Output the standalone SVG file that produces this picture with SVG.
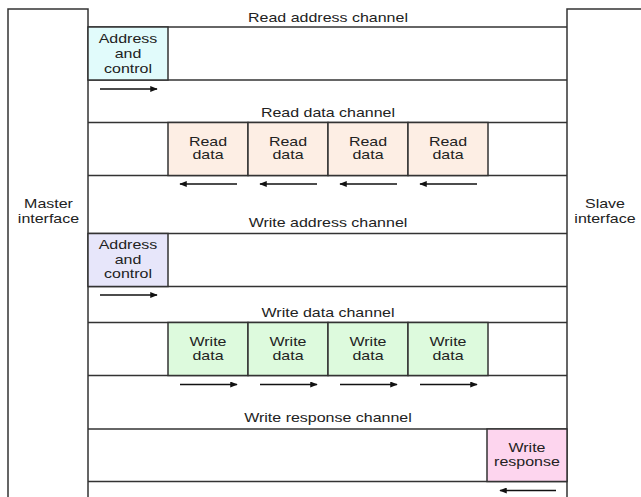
<svg xmlns="http://www.w3.org/2000/svg" width="641" height="497" viewBox="0 0 641 497">
<style>
.ln{stroke:#333;stroke-width:1.5;fill:none}
.cell{stroke:#333;stroke-width:1.5}
.ra{fill:#E1FBFB}.rd{fill:#FDEEE4}.wa{fill:#E7E6FA}.wd{fill:#DDFADD}.wr{fill:#FDD5EE}
text{font-family:"Liberation Sans",Arial,sans-serif;font-size:16px;fill:#222;text-anchor:middle}
.arr{stroke:#111;stroke-width:1.3;fill:none;marker-end:url(#ah)}
</style>
<defs>
<marker id="ah" viewBox="0 0 10 8" refX="9" refY="4" markerWidth="8" markerHeight="6" markerUnits="userSpaceOnUse" orient="auto">
<path d="M0,0 L10,4 L0,8 z" fill="#111"/>
</marker>
</defs>
<rect width="641" height="497" fill="#fff"/>
<g id="master"><rect class="ln" x="8" y="9" width="80" height="500"/></g>
<g id="slave"><rect class="ln" x="567" y="9" width="100" height="500"/></g>
<g id="channels">
<line class="ln" x1="88" y1="27" x2="567" y2="27"/>
<line class="ln" x1="88" y1="80" x2="567" y2="80"/>
<line class="ln" x1="88" y1="122.5" x2="567" y2="122.5"/>
<line class="ln" x1="88" y1="175.5" x2="567" y2="175.5"/>
<line class="ln" x1="88" y1="233.5" x2="567" y2="233.5"/>
<line class="ln" x1="88" y1="286.5" x2="567" y2="286.5"/>
<line class="ln" x1="88" y1="322.5" x2="567" y2="322.5"/>
<line class="ln" x1="88" y1="375.5" x2="567" y2="375.5"/>
<line class="ln" x1="88" y1="429" x2="567" y2="429"/>
<line class="ln" x1="88" y1="481.5" x2="567" y2="481.5"/>
</g>
<g id="read-address"><rect class="cell ra" x="88" y="27" width="80" height="53"/></g>
<g id="read-data-1"><rect class="cell rd" x="168" y="122.5" width="80" height="53"/></g>
<g id="read-data-2"><rect class="cell rd" x="248" y="122.5" width="80" height="53"/></g>
<g id="read-data-3"><rect class="cell rd" x="328" y="122.5" width="80" height="53"/></g>
<g id="read-data-4"><rect class="cell rd" x="408" y="122.5" width="80" height="53"/></g>
<g id="write-address"><rect class="cell wa" x="88" y="233.5" width="80" height="53"/></g>
<g id="write-data-1"><rect class="cell wd" x="168" y="322.5" width="80" height="53"/></g>
<g id="write-data-2"><rect class="cell wd" x="248" y="322.5" width="80" height="53"/></g>
<g id="write-data-3"><rect class="cell wd" x="328" y="322.5" width="80" height="53"/></g>
<g id="write-data-4"><rect class="cell wd" x="408" y="322.5" width="80" height="53"/></g>
<g id="write-response"><rect class="cell wr" x="487" y="429" width="80" height="52.5"/></g>
<g id="connectors">
<line class="arr" x1="100" y1="89" x2="157" y2="89"/>
<line class="arr" x1="237" y1="184" x2="180" y2="184"/>
<line class="arr" x1="317" y1="184" x2="260" y2="184"/>
<line class="arr" x1="397" y1="184" x2="340" y2="184"/>
<line class="arr" x1="477" y1="184" x2="420" y2="184"/>
<line class="arr" x1="100" y1="295" x2="157" y2="295"/>
<line class="arr" x1="180" y1="384.5" x2="237" y2="384.5"/>
<line class="arr" x1="260" y1="384.5" x2="317" y2="384.5"/>
<line class="arr" x1="340" y1="384.5" x2="397" y2="384.5"/>
<line class="arr" x1="420" y1="384.5" x2="477" y2="384.5"/>
<line class="arr" x1="556" y1="490.5" x2="500" y2="490.5"/>
</g>
<g id="labels" transform="scale(1,0.85)">
<text x="48.5" y="244.7">Master</text>
<text x="48.5" y="261.8">interface</text>
<text x="605" y="244.7">Slave</text>
<text x="605" y="261.8">interface</text>
<text x="328" y="25.9">Read address channel</text>
<text x="328" y="137.6">Read data channel</text>
<text x="328" y="267.4">Write address channel</text>
<text x="328" y="373.3">Write data channel</text>
<text x="328" y="496.9">Write response channel</text>
<text x="128" y="50.9">Address</text>
<text x="128" y="68.2">and</text>
<text x="128" y="85.5">control</text>
<text x="208" y="171.4">Read</text><text x="208" y="187.1">data</text>
<text x="288" y="171.4">Read</text><text x="288" y="187.1">data</text>
<text x="368" y="171.4">Read</text><text x="368" y="187.1">data</text>
<text x="448" y="171.4">Read</text><text x="448" y="187.1">data</text>
<text x="128" y="292.9">Address</text>
<text x="128" y="310.6">and</text>
<text x="128" y="327.6">control</text>
<text x="208" y="406.7">Write</text><text x="208" y="423.5">data</text>
<text x="288" y="406.7">Write</text><text x="288" y="423.5">data</text>
<text x="368" y="406.7">Write</text><text x="368" y="423.5">data</text>
<text x="448" y="406.7">Write</text><text x="448" y="423.5">data</text>
<text x="527" y="531.4">Write</text>
<text x="527" y="548.2">response</text>
</g>
</svg>
